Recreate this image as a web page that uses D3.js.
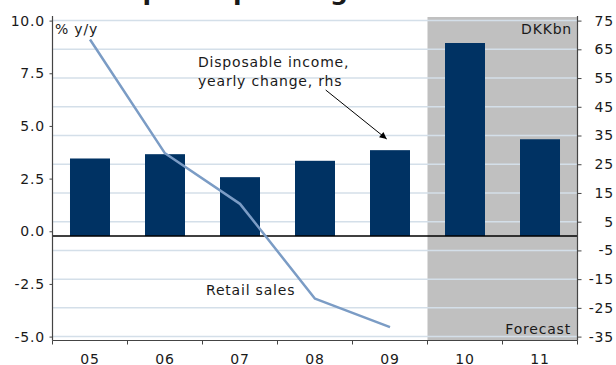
<!DOCTYPE html>
<html>
<head>
<meta charset="utf-8">
<script src="https://cdn.jsdelivr.net/npm/d3@7/dist/d3.min.js"></script>
<style>
  html, body { margin: 0; padding: 0; background: #fff; }
  svg { display: block; }
  text { font-family: "DejaVu Sans", Verdana, sans-serif; font-size: 14px; letter-spacing: 0.8px; fill: #1a1a1a; }
</style>
</head>
<body>
<svg id="chart" width="616" height="365"></svg>
<script>
// Years on the category axis
const years = ["05", "06", "07", "08", "09", "10", "11"];
// Disposable income, yearly change, DKK bn (right axis, bars)
const incomeChange = [27.0, 28.5, 20.5, 26.2, 29.9, 67.2, 33.7];
// Retail sales, % y/y (left axis, line; no forecast)
const retailYears = ["05", "06", "07", "08", "09"];
const retailSales = [9.1, 3.7, 1.3, -3.2, -4.55];
// Forecast years, shaded
const forecastYears = ["10", "11"];
// Axis ticks
const leftTicks = [-5, -2.5, 0, 2.5, 5, 7.5, 10];
const rightTicks = [-35, -25, -15, -5, 5, 15, 25, 35, 45, 55, 65, 75];

const svg = d3.select("#chart");

const plot = { left: 52.5, right: 577.5, top: 17, bottom: 340.5 };
const yTop = 20.6, yBottom = 336.6;

// Scales
const x = d3.scaleBand().domain(years).range([plot.left, plot.right]).padding(0);
const xBar = d3.scaleBand().domain(years).range([plot.left, plot.right])
  .paddingInner(0.4667).paddingOuter(0.2333);
const yLeft = d3.scaleLinear().domain([-5, 10]).range([yBottom, yTop]);
const yRight = d3.scaleLinear().domain([-35, 75]).range([yBottom, yTop]);

// Title (mostly above the visible area)
svg.append("text")
  .attr("x", 96).attr("y", 0)
  .style("font-weight", "bold").style("font-size", "25px").style("letter-spacing", "0px")
  .text("Help for spending");

// Forecast shading
svg.append("rect")
  .attr("x", x(forecastYears[0]))
  .attr("y", plot.top)
  .attr("width", x(forecastYears[forecastYears.length - 1]) + x.bandwidth() - x(forecastYears[0]))
  .attr("height", plot.bottom - plot.top)
  .attr("fill", "#c0c0c0");

// Gridlines on the right-axis ticks
svg.append("g").selectAll("line").data(rightTicks).join("line")
  .attr("x1", plot.left).attr("x2", plot.right)
  .attr("y1", d => yRight(d)).attr("y2", d => yRight(d))
  .attr("stroke", "#d4dfe9").attr("stroke-width", 1.5);

// Bars
svg.append("g").selectAll("rect").data(incomeChange).join("rect")
  .attr("x", (d, i) => xBar(years[i]))
  .attr("width", xBar.bandwidth())
  .attr("y", d => yRight(d))
  .attr("height", d => yRight(0) - yRight(d))
  .attr("fill", "#003263");

// Zero line
svg.append("line")
  .attr("x1", plot.left).attr("x2", plot.right)
  .attr("y1", yRight(0)).attr("y2", yRight(0))
  .attr("stroke", "#000").attr("stroke-width", 1.5);

// Retail sales line
const line = d3.line()
  .x((d, i) => x(retailYears[i]) + x.bandwidth() / 2)
  .y(d => yLeft(d));
svg.append("path")
  .datum(retailSales)
  .attr("d", line)
  .attr("fill", "none")
  .attr("stroke", "#7b9cc5")
  .attr("stroke-width", 2.5)
  .attr("stroke-linejoin", "round");

// Axes
const axisColor = "#444";
const gLeft = svg.append("g").attr("transform", `translate(${plot.left},0)`)
  .call(d3.axisLeft(yLeft).tickValues(leftTicks).tickSize(3).tickSizeOuter(0)
    .tickFormat(d => d.toFixed(1)));
gLeft.select(".domain").remove();
gLeft.selectAll(".tick line").attr("stroke", axisColor);
gLeft.selectAll(".tick text").attr("x", -7.5).attr("fill", "#1a1a1a")
  .style("font-size", "14px").style("font-family", "DejaVu Sans");

const gRight = svg.append("g").attr("transform", `translate(${plot.right},0)`)
  .call(d3.axisRight(yRight).tickValues(rightTicks).tickSize(4).tickSizeOuter(0)
    .tickFormat(d => String(d)));
gRight.select(".domain").remove();
gRight.selectAll(".tick line").attr("stroke", axisColor);
gRight.selectAll(".tick text").attr("x", 36.5).attr("text-anchor", "end").attr("fill", "#1a1a1a")
  .style("font-size", "14px").style("font-family", "DejaVu Sans");

const gBottom = svg.append("g").attr("transform", `translate(0,${plot.bottom})`)
  .call(d3.axisBottom(x).tickSize(0).tickPadding(13.5));
gBottom.select(".domain").remove();
gBottom.selectAll(".tick text").attr("fill", "#1a1a1a")
  .style("font-size", "14px").style("font-family", "DejaVu Sans");

// Category boundary ticks
svg.append("g").selectAll("line").data(years.concat(["end"])).join("line")
  .attr("x1", (d, i) => i < years.length ? x(d) : x(years[years.length - 1]) + x.bandwidth())
  .attr("x2", (d, i) => i < years.length ? x(d) : x(years[years.length - 1]) + x.bandwidth())
  .attr("y1", plot.bottom).attr("y2", plot.bottom + 4)
  .attr("stroke", axisColor);

// Axis lines
svg.append("line").attr("x1", plot.left).attr("x2", plot.left)
  .attr("y1", plot.top - 1).attr("y2", plot.bottom).attr("stroke", axisColor).attr("stroke-width", 1.2);
svg.append("line").attr("x1", plot.right).attr("x2", plot.right)
  .attr("y1", plot.top - 1).attr("y2", plot.bottom).attr("stroke", axisColor).attr("stroke-width", 1.2);
svg.append("line").attr("x1", plot.left).attr("x2", plot.right)
  .attr("y1", plot.bottom).attr("y2", plot.bottom).attr("stroke", axisColor).attr("stroke-width", 1.2);

// Unit labels
svg.append("text").attr("x", 55).attr("y", 34).text("% y/y");
svg.append("text").attr("x", 572).attr("y", 34).attr("text-anchor", "end").text("DKKbn");
svg.append("text").attr("x", 571).attr("y", 334).attr("text-anchor", "end").text("Forecast");

// Series annotations
svg.append("text").attr("x", 206).attr("y", 295).text("Retail sales");
const note = svg.append("text").attr("x", 198).attr("y", 66.5);
note.append("tspan").attr("x", 198).text("Disposable income,");
note.append("tspan").attr("x", 198).attr("dy", 19).text("yearly change, rhs");

// Arrow pointing at the 09 bar
svg.append("defs").append("marker")
  .attr("id", "arrowhead").attr("viewBox", "0 0 10 10")
  .attr("refX", 10).attr("refY", 5)
  .attr("markerWidth", 9).attr("markerHeight", 7)
  .attr("markerUnits", "userSpaceOnUse")
  .attr("orient", "auto")
  .append("path").attr("d", "M0,0 L10,5 L0,10 z").attr("fill", "#000");
svg.append("line")
  .attr("x1", 325.7).attr("y1", 90)
  .attr("x2", 386.7).attr("y2", 139)
  .attr("stroke", "#000").attr("stroke-width", 1)
  .attr("marker-end", "url(#arrowhead)");
</script>
</body>
</html>
